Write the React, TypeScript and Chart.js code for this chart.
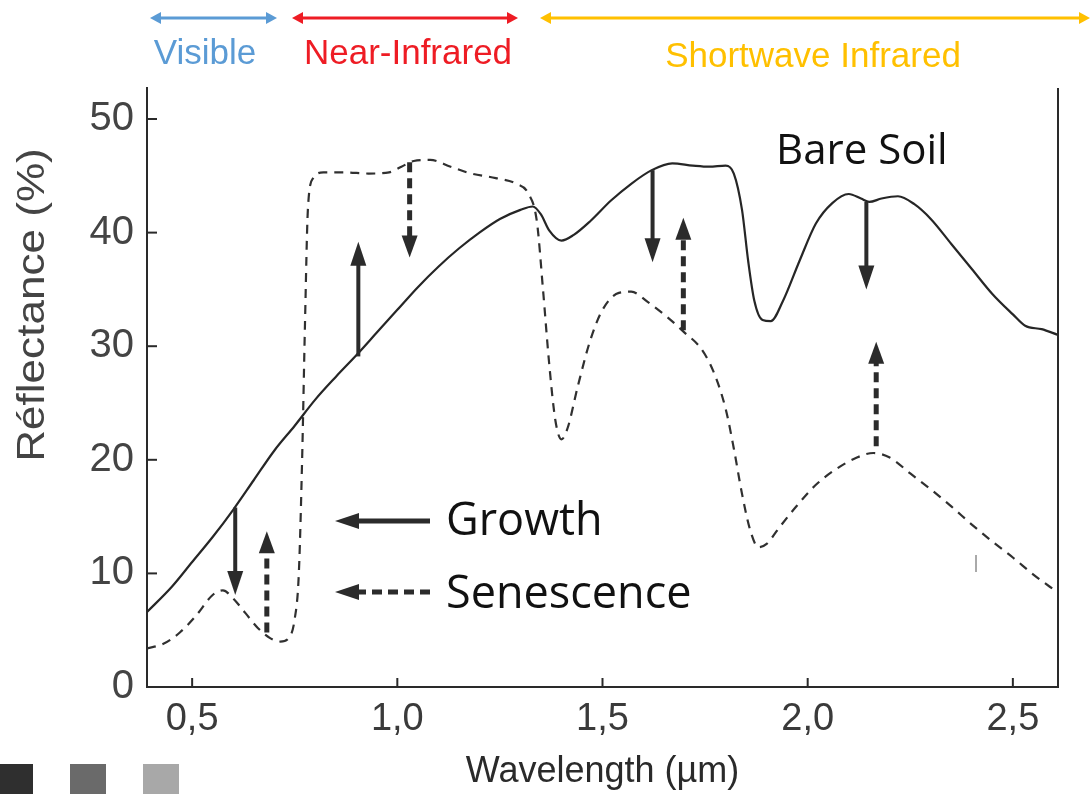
import React, { useEffect, useRef } from 'react';
import { Chart, registerables } from 'chart.js';

Chart.register(...registerables);

// ---- Data (wavelength in µm, reflectance in %) ----
const soilWavelengths = [
  0.39, 0.45, 0.5, 0.55, 0.6, 0.65, 0.7, 0.75, 0.8, 0.85, 0.9, 0.95, 1.0, 1.05, 1.1, 1.15, 1.2, 1.25, 1.3,
  1.33, 1.35, 1.37, 1.4, 1.43, 1.47, 1.52, 1.57, 1.62, 1.67, 1.72, 1.76, 1.8, 1.82, 1.84, 1.855, 1.87, 1.89,
  1.91, 1.94, 1.98, 2.02, 2.06, 2.1, 2.13, 2.15, 2.18, 2.22, 2.26, 2.3, 2.35, 2.4, 2.45, 2.5, 2.53, 2.57, 2.61,
];
const soilReflectance = [
  6.6, 8.8, 11.0, 13.2, 15.6, 18.2, 20.8, 23.0, 25.3, 27.3, 29.2, 31.2, 33.2, 35.2, 37.0, 38.6, 40.0, 41.2, 42.0,
  42.3, 41.6, 40.2, 39.3, 39.8, 41.0, 42.8, 44.3, 45.5, 46.1, 45.9, 45.8, 45.9, 45.2, 42.0, 37.5, 34.0, 32.3,
  32.2, 34.0, 37.5, 40.8, 42.6, 43.4, 43.0, 42.7, 43.0, 43.2, 42.5, 41.2, 39.0, 36.8, 34.6, 32.8, 31.8, 31.5, 31.0,
];
const vegWavelengths = [
  0.39, 0.43, 0.47, 0.51, 0.55, 0.575, 0.6, 0.63, 0.66, 0.69, 0.715, 0.735, 0.75, 0.76, 0.768, 0.775, 0.782,
  0.795, 0.82, 0.87, 0.93, 0.98, 1.01, 1.04, 1.08, 1.13, 1.18, 1.24, 1.29, 1.32, 1.34, 1.355, 1.37, 1.385, 1.4,
  1.415, 1.44, 1.47, 1.5, 1.54, 1.57, 1.61, 1.66, 1.7, 1.74, 1.77, 1.8, 1.82, 1.84, 1.86, 1.88, 1.9, 1.93, 1.97,
  2.02, 2.07, 2.12, 2.16, 2.2, 2.25, 2.3, 2.35, 2.4, 2.45, 2.5, 2.55, 2.61,
];
const vegReflectance = [
  3.4, 3.8, 4.8, 6.3, 8.1, 8.5, 7.8, 6.5, 5.2, 4.3, 4.0, 4.3, 6.0, 10.0, 20.0, 32.0, 42.0,
  44.8, 45.3, 45.3, 45.2, 45.3, 45.8, 46.3, 46.4, 45.8, 45.2, 44.8, 44.3, 43.4, 41.0, 35.0, 28.5, 23.5, 21.8,
  22.8, 26.5, 30.5, 33.2, 34.7, 34.8, 33.9, 32.5, 31.2, 29.8, 27.8, 24.5, 21.0, 17.0, 13.8, 12.3, 12.6, 14.0, 15.8,
  17.8, 19.2, 20.2, 20.6, 20.2, 18.8, 17.4, 15.9, 14.3, 12.8, 11.4, 9.9, 8.3,
];

const xTickValues = [0.5, 1.0, 1.5, 2.0, 2.5];
const yTickValues = [0, 10, 20, 30, 40, 50];

// Growth arrows (solid) and senescence arrows (dashed): wavelength, start %, tip %
const growthArrowX = [0.605, 0.905, 1.622, 2.143];
const growthArrowFrom = [15.8, 29.1, 45.5, 42.7];
const growthArrowTo = [8.1, 39.2, 37.4, 35.0];
const senescenceArrowX = [0.682, 1.03, 1.697, 2.167];
const senescenceArrowFrom = [4.8, 46.2, 31.4, 21.2];
const senescenceArrowTo = [13.7, 37.8, 41.3, 30.4];

const regionLabels = ['Visible', 'Near-Infrared', 'Shortwave Infrared'];
const regionColors = ['#5b9bd5', '#ee1c24', '#ffc000'];

const AXIS_FONT = "'Liberation Sans', Arial, sans-serif";
const NOTE_FONT = "'Open Sans', 'Noto Sans', sans-serif";

function arrow(
  ctx: CanvasRenderingContext2D,
  x1: number, y1: number, x2: number, y2: number,
  dashed: boolean, width: number, headLen: number, headHalf: number, color: string,
) {
  const ang = Math.atan2(y2 - y1, x2 - x1);
  const c = Math.cos(ang);
  const s = Math.sin(ang);
  const bx = x2 - c * headLen;
  const by = y2 - s * headLen;
  ctx.save();
  ctx.strokeStyle = color;
  ctx.fillStyle = color;
  ctx.lineWidth = width;
  ctx.lineCap = 'butt';
  if (dashed) ctx.setLineDash([10, 6]);
  ctx.beginPath();
  ctx.moveTo(x1, y1);
  ctx.lineTo(bx + c * 2, by + s * 2);
  ctx.stroke();
  ctx.setLineDash([]);
  ctx.beginPath();
  ctx.moveTo(x2, y2);
  ctx.lineTo(bx - s * headHalf, by + c * headHalf);
  ctx.lineTo(bx + s * headHalf, by - c * headHalf);
  ctx.closePath();
  ctx.fill();
  ctx.restore();
}

function doubleArrow(ctx: CanvasRenderingContext2D, x1: number, x2: number, y: number, color: string) {
  const h = 11;
  const w = 6;
  ctx.save();
  ctx.strokeStyle = color;
  ctx.fillStyle = color;
  ctx.lineWidth = 3;
  ctx.beginPath();
  ctx.moveTo(x1 + h - 1, y);
  ctx.lineTo(x2 - h + 1, y);
  ctx.stroke();
  ctx.beginPath();
  ctx.moveTo(x1, y);
  ctx.lineTo(x1 + h, y - w);
  ctx.lineTo(x1 + h, y + w);
  ctx.closePath();
  ctx.fill();
  ctx.beginPath();
  ctx.moveTo(x2, y);
  ctx.lineTo(x2 - h, y - w);
  ctx.lineTo(x2 - h, y + w);
  ctx.closePath();
  ctx.fill();
  ctx.restore();
}

const decorPlugin = {
  id: 'decor',
  afterDraw(chart: any) {
    const ctx: CanvasRenderingContext2D = chart.ctx;
    const xs = chart.scales.x;
    const ys = chart.scales.y;
    const area = chart.chartArea;
    ctx.save();

    // right frame line
    ctx.strokeStyle = '#2a2a2a';
    ctx.lineWidth = 2;
    ctx.beginPath();
    ctx.moveTo(area.right, area.top);
    ctx.lineTo(area.right, area.bottom);
    ctx.stroke();

    // inner tick marks
    ctx.lineWidth = 2;
    yTickValues.forEach((v) => {
      if (v === 0) return;
      const py = ys.getPixelForValue(v);
      ctx.beginPath();
      ctx.moveTo(area.left, py);
      ctx.lineTo(area.left + 10, py);
      ctx.stroke();
    });
    xTickValues.forEach((v) => {
      const px = xs.getPixelForValue(v);
      ctx.beginPath();
      ctx.moveTo(px, area.bottom);
      ctx.lineTo(px, area.bottom - 9);
      ctx.stroke();
    });

    // growth / senescence arrows on curves
    growthArrowX.forEach((v, i) => {
      const px = xs.getPixelForValue(v);
      arrow(ctx, px, ys.getPixelForValue(growthArrowFrom[i]), px, ys.getPixelForValue(growthArrowTo[i]), false, 4, 24, 8, '#2b2b2b');
    });
    senescenceArrowX.forEach((v, i) => {
      const px = xs.getPixelForValue(v);
      arrow(ctx, px, ys.getPixelForValue(senescenceArrowFrom[i]), px, ys.getPixelForValue(senescenceArrowTo[i]), true, 5, 22, 8, '#2b2b2b');
    });

    // legend
    arrow(ctx, 430, 521, 335, 521, false, 5, 24, 8, '#2b2b2b');
    arrow(ctx, 430, 592, 335, 592, true, 5, 24, 8, '#2b2b2b');
    ctx.fillStyle = '#111';
    ctx.font = `45px ${NOTE_FONT}`;
    ctx.textAlign = 'left';
    ctx.textBaseline = 'alphabetic';
    ctx.fillText('Growth', 446, 535);
    ctx.fillText('Senescence', 446, 608);
    ctx.font = `42px ${NOTE_FONT}`;
    ctx.fillText('Bare Soil', 776, 164);

    // y axis title
    ctx.save();
    ctx.translate(34, 305);
    ctx.rotate(-Math.PI / 2);
    ctx.scale(1.16, 1);
    ctx.fillStyle = '#444';
    ctx.font = `38px ${AXIS_FONT}`;
    ctx.textAlign = 'center';
    ctx.textBaseline = 'middle';
    ctx.fillText('Réflectance (%)', 0, 0);
    ctx.restore();

    // spectral region labels
    doubleArrow(ctx, 150, 277, 18, regionColors[0]);
    doubleArrow(ctx, 292, 518, 18, regionColors[1]);
    doubleArrow(ctx, 540, 1090, 18, regionColors[2]);
    ctx.font = `35px ${AXIS_FONT}`;
    ctx.textAlign = 'center';
    ctx.textBaseline = 'alphabetic';
    ctx.fillStyle = regionColors[0];
    ctx.fillText(regionLabels[0], 205, 64);
    ctx.fillStyle = regionColors[1];
    ctx.fillText(regionLabels[1], 408, 64);
    ctx.fillStyle = regionColors[2];
    ctx.fillText(regionLabels[2], 813, 67);

    // grey swatches bottom-left
    ctx.fillStyle = '#2f2f2f';
    ctx.fillRect(0, 764, 33, 30);
    ctx.fillStyle = '#6a6a6a';
    ctx.fillRect(70, 764, 36, 30);
    ctx.fillStyle = '#a8a8a8';
    ctx.fillRect(143, 764, 36, 30);

    // small scan artefact
    ctx.strokeStyle = '#555';
    ctx.lineWidth = 1;
    ctx.beginPath();
    ctx.moveTo(976, 555);
    ctx.lineTo(976, 572);
    ctx.stroke();

    ctx.restore();
  },
};

export default function App() {
  const canvasRef = useRef<HTMLCanvasElement | null>(null);

  useEffect(() => {
    const canvas = canvasRef.current;
    if (!canvas) return;
    const chart = new Chart(canvas, {
      type: 'line',
      data: {
        datasets: [
          {
            label: 'Bare Soil',
            data: soilWavelengths.map((x, i) => ({ x, y: soilReflectance[i] })),
            borderColor: '#262626',
            borderWidth: 2.2,
            pointRadius: 0,
            fill: false,
            cubicInterpolationMode: 'monotone',
          },
          {
            label: 'Vegetation',
            data: vegWavelengths.map((x, i) => ({ x, y: vegReflectance[i] })),
            borderColor: '#303030',
            borderWidth: 2.2,
            borderDash: [9, 7],
            pointRadius: 0,
            fill: false,
            cubicInterpolationMode: 'monotone',
          },
        ],
      },
      options: {
        responsive: false,
        animation: false,
        layout: { padding: { left: 0, top: 88, right: 33, bottom: 0 } },
        plugins: {
          legend: { display: false },
          tooltip: { enabled: false },
          title: { display: false },
        },
        scales: {
          x: {
            type: 'linear',
            min: 0.39,
            max: 2.61,
            afterBuildTicks: (s: any) => {
              s.ticks = xTickValues.map((v) => ({ value: v }));
            },
            afterFit: (s: any) => {
              s.height = 107;
            },
            grid: { display: false, drawTicks: false },
            border: { display: true, color: '#2a2a2a', width: 2 },
            ticks: {
              padding: 10,
              autoSkip: false,
              maxRotation: 0,
              color: '#3a3a3a',
              font: { family: AXIS_FONT, size: 38 },
              callback: (v: any) => Number(v).toFixed(1).replace('.', ','),
            },
            title: {
              display: true,
              text: 'Wavelength (µm)',
              color: '#2a2a2a',
              font: { family: AXIS_FONT, size: 36, lineHeight: 1.2 },
              padding: { top: 0, bottom: 0 },
            },
          },
          y: {
            type: 'linear',
            min: 0,
            max: 52.73,
            afterBuildTicks: (s: any) => {
              s.ticks = yTickValues.map((v) => ({ value: v }));
            },
            afterFit: (s: any) => {
              s.width = 147;
            },
            grid: { display: false, drawTicks: false },
            border: { display: true, color: '#2a2a2a', width: 2 },
            ticks: {
              padding: 13,
              color: '#444',
              font: { family: AXIS_FONT, size: 40 },
            },
          },
        },
      },
      plugins: [decorPlugin],
    } as any);
    return () => chart.destroy();
  }, []);

  return (
    <div style={{ position: 'fixed', left: 0, top: 0, width: 1091, height: 794, background: '#fff' }}>
      <canvas ref={canvasRef} width={1091} height={794} style={{ width: 1091, height: 794, display: 'block' }} />
    </div>
  );
}
